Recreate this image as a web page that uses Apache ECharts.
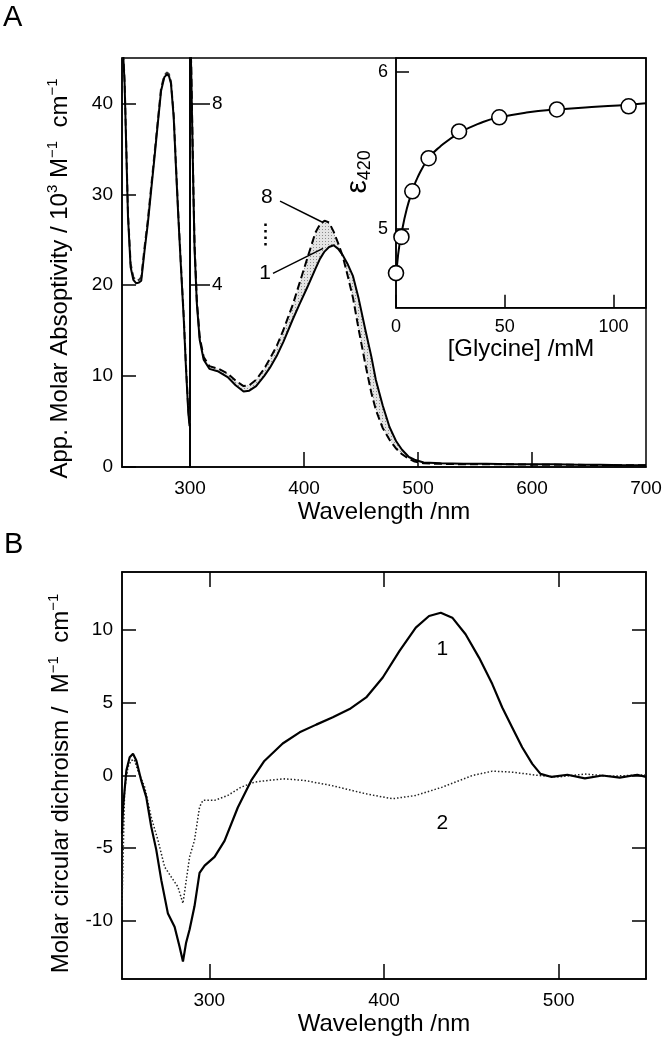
<!DOCTYPE html>
<html><head><meta charset="utf-8">
<script src="https://cdn.jsdelivr.net/npm/echarts@6/dist/echarts.min.js"></script>
<style>html,body{margin:0;padding:0;background:#fff}#c{width:666px;height:1044px}</style>
</head><body><div id="c"></div>
<script>
// ---------- Panel A: absorption spectra (UV segment, 240-300 nm, left scale 0-45) ----------
const uvLeftWl = [240, 241, 242.3, 243.8, 245.3, 247.6, 250, 252.6, 255, 257, 259.9, 262.8, 265.7, 268.7, 271.6, 274.5, 277.4, 279.7, 281.5, 283.2, 285.6, 287.6, 289.7, 292, 294.4, 296.4, 298.5, 299.6];
const uvLeft1 = [48, 45.5, 42.2, 34.8, 27.5, 22.0, 20.6, 20.2, 20.3, 20.5, 23.8, 26.8, 30.4, 34.1, 37.8, 41.4, 42.9, 43.2, 43.0, 42.2, 38.5, 33.0, 27.5, 22.0, 16.5, 11.0, 6.0, 4.5];
const uvLeft8 = [48, 45.8, 42.5, 35.2, 27.9, 22.4, 20.9, 20.5, 20.6, 20.9, 24.2, 27.2, 30.8, 34.5, 38.1, 41.7, 43.1, 43.4, 43.2, 42.4, 38.8, 33.3, 27.8, 22.3, 16.8, 11.3, 6.3, 4.8];
// ---------- Panel A: visible segment (300-700 nm, right scale 0-9) ----------
const visWl = [300, 301, 302, 303, 304, 306, 308.5, 312, 317, 325, 333, 340, 347, 352, 358, 365, 370, 376, 382, 390, 396, 403, 410, 414, 418, 422, 426, 430, 434, 438, 443, 448, 454, 459, 463, 469, 475, 481, 486, 492, 497, 505, 520, 540, 560, 580, 600, 620, 640, 660, 680, 700];
const vis1 = [9.6, 8.8, 7.4, 6.0, 4.8, 3.6, 2.8, 2.36, 2.16, 2.1, 1.98, 1.8, 1.66, 1.68, 1.78, 2.0, 2.18, 2.44, 2.76, 3.24, 3.58, 3.96, 4.36, 4.58, 4.74, 4.84, 4.88, 4.8, 4.66, 4.48, 4.2, 3.7, 3.0, 2.44, 1.92, 1.36, 0.88, 0.56, 0.38, 0.22, 0.16, 0.1, 0.08, 0.07, 0.07, 0.06, 0.06, 0.06, 0.05, 0.05, 0.04, 0.04];
const vis8 = [9.6, 8.9, 7.5, 6.1, 4.9, 3.66, 2.86, 2.42, 2.22, 2.16, 2.06, 1.9, 1.78, 1.8, 1.92, 2.16, 2.38, 2.66, 3.02, 3.56, 4.04, 4.6, 5.16, 5.34, 5.42, 5.38, 5.18, 4.92, 4.64, 4.24, 3.72, 3.02, 2.24, 1.64, 1.26, 0.86, 0.6, 0.4, 0.28, 0.18, 0.12, 0.08, 0.07, 0.06, 0.06, 0.06, 0.05, 0.05, 0.05, 0.04, 0.04, 0.04];
// ---------- Inset: epsilon420 vs glycine ----------
const glycine = [0, 2.5, 7.5, 15, 29, 47.5, 74, 107];
const eps420 = [4.72, 4.95, 5.24, 5.45, 5.62, 5.71, 5.76, 5.78];
const fitGly = [0, 1, 2.5, 5, 7.5, 10, 15, 20, 29, 40, 47.5, 60, 74, 90, 107, 115];
const fitEps = [4.68, 4.84, 4.97, 5.13, 5.24, 5.33, 5.45, 5.52, 5.61, 5.68, 5.71, 5.74, 5.76, 5.775, 5.79, 5.80];
// ---------- Panel B: CD spectra ----------
const cdWl1 = [250, 250.6, 252.5, 254.4, 256.3, 258.2, 261, 263.9, 266.7, 269.6, 272.5, 276.3, 280.1, 283, 284.9, 286.7, 288.7, 291.5, 294.4, 297.3, 303, 308.7, 316.3, 324, 331.5, 342, 351.7, 361.2, 370.7, 380.3, 389.8, 399.3, 408.9, 418.2, 425.8, 432.5, 439.1, 446.7, 454.4, 462, 467.7, 473.4, 479.1, 484.9, 489.6, 496, 505, 515, 525, 535, 545, 550];
const cd1 = [-4, -2.2, 0.34, 1.26, 1.49, 1.03, -0.34, -1.49, -3.5, -5.1, -7.2, -9.5, -10.4, -11.8, -12.8, -11.5, -10.6, -9.0, -6.7, -6.2, -5.6, -4.5, -2.2, -0.34, 1.0, 2.2, 2.97, 3.5, 4.0, 4.57, 5.37, 6.74, 8.57, 10.17, 10.97, 11.2, 10.86, 9.72, 8.11, 6.29, 4.68, 3.31, 1.94, 0.8, 0.11, -0.1, 0.05, -0.2, 0.0, -0.15, 0.05, -0.1];
const cdWl2 = [250, 251.5, 253.4, 255.3, 257, 259.1, 263, 266.7, 270.6, 274.4, 278.2, 282, 284.9, 286.8, 288.7, 291.5, 294.4, 296.3, 303, 310.6, 318.2, 325.8, 333.4, 343, 354.4, 370, 389.6, 404.9, 418.2, 433.4, 450.6, 462, 473.4, 488.7, 500, 515, 530, 550];
const cd2 = [-9, -1.0, 0.57, 1.03, 1.1, 0.34, -0.8, -2.86, -4.46, -6.29, -6.98, -7.66, -8.8, -7.2, -5.6, -4.46, -2.17, -1.71, -1.71, -1.37, -0.8, -0.46, -0.34, -0.23, -0.34, -0.69, -1.26, -1.6, -1.37, -0.8, 0, 0.3, 0.23, 0, -0.1, 0.1, -0.05, 0.05];
// ---------- Tick labels ----------
const ticksAleft = [0, 10, 20, 30, 40];
const ticksAright = [4, 8];
const ticksAx = [300, 400, 500, 600, 700];
const ticksAxInner = [400, 500, 600];
const ticksGly = [0, 50, 100];
const ticksEps = [5, 6];
const ticksBy = [-10, -5, 0, 5, 10];
const ticksBx = [300, 400, 500];

const FONT = '"Liberation Sans", Arial, Helvetica, sans-serif';
const zip = (xs, ys) => xs.map((x, i) => [x, ys[i]]);

// stipple pattern for the shaded band between spectra 1 and 8
const pc = document.createElement('canvas');
pc.width = 3; pc.height = 3;
const g = pc.getContext('2d');
g.fillStyle = '#e4e4e4'; g.fillRect(0, 0, 3, 3);
g.fillStyle = '#8c8c8c'; g.fillRect(1, 1, 1, 1);

const black = '#000';
const axLine = { show: true, onZero: false, lineStyle: { color: black, width: 1.5 } };
const tickIn = (len, vals) => ({ show: true, inside: true, length: len, customValues: vals, lineStyle: { color: black, width: 1.5 } });
const lab = (vals, size, margin, extra) => Object.assign({ show: true, customValues: vals, fontSize: size, margin: margin, color: black, fontFamily: FONT }, extra || {});
const noLab = { show: false };
const noTick = { show: false };
const noSplit = { show: false };
const labelSeries = (xi, yi, pts) => ({
  type: 'scatter', xAxisIndex: xi, yAxisIndex: yi, silent: true, symbolSize: 1,
  itemStyle: { color: '#fff', opacity: 1 }, data: pts, z: 6,
  label: { show: true, position: 'inside', formatter: p => p.value[2], fontSize: 21, fontFamily: FONT,
    color: black, opacity: 1, textBorderWidth: 0, textBorderColor: 'transparent' }
});

const chart = echarts.init(document.getElementById('c'), null, { renderer: 'canvas' });
chart.setOption({
  animation: false,
  backgroundColor: '#fff',
  textStyle: { fontFamily: FONT, color: black },
  graphic: [
    { type: 'text', left: 3, top: 3, style: { text: 'A', fontSize: 29, fontFamily: FONT, fill: black } },
    { type: 'text', left: 4, top: 530, style: { text: 'B', fontSize: 29, fontFamily: FONT, fill: black } }
  ],
  grid: [
    { left: 122, top: 58, width: 68, height: 409, show: true, borderColor: black, borderWidth: 1.5 },
    { left: 190, top: 58, width: 456, height: 409, show: true, borderColor: black, borderWidth: 1.5 },
    { left: 396, top: 58, width: 250, height: 249.7, show: true, borderColor: black, borderWidth: 1.5 },
    { left: 122, top: 572, width: 524, height: 407, show: true, borderColor: black, borderWidth: 1.5 },
    { left: 122, top: 58, width: 524, height: 409, show: false }
  ],
  xAxis: [
    { gridIndex: 0, type: 'value', min: 240, max: 300, axisLine: axLine, axisTick: noTick, axisLabel: noLab, splitLine: noSplit },
    { gridIndex: 1, type: 'value', min: 300, max: 700, axisLine: axLine, axisTick: tickIn(15, ticksAxInner), axisLabel: lab(ticksAx, 19, 12), splitLine: noSplit },
    { gridIndex: 2, type: 'value', min: 0, max: 115, axisLine: axLine, axisTick: tickIn(13, ticksGly), axisLabel: lab(ticksGly, 18, 10), splitLine: noSplit,
      name: '[Glycine] /mM', nameLocation: 'middle', nameGap: 30, nameTextStyle: { fontSize: 24, fontFamily: FONT, color: black } },
    { gridIndex: 3, type: 'value', min: 250, max: 550, axisLine: axLine, axisTick: tickIn(15, ticksBx), axisLabel: lab(ticksBx, 19, 12), splitLine: noSplit,
      name: 'Wavelength /nm', nameLocation: 'middle', nameGap: 33, nameTextStyle: { fontSize: 24, fontFamily: FONT, color: black } },
    { gridIndex: 3, type: 'value', position: 'top', min: 250, max: 550, axisLine: axLine, axisTick: tickIn(15, ticksBx), axisLabel: noLab, splitLine: noSplit },
    { gridIndex: 4, type: 'value', min: 240, max: 700, axisLine: { show: false }, axisTick: noTick, axisLabel: noLab, splitLine: noSplit,
      name: 'Wavelength /nm', nameLocation: 'middle', nameGap: 33, nameTextStyle: { fontSize: 24, fontFamily: FONT, color: black } }
  ],
  yAxis: [
    { gridIndex: 0, type: 'value', min: 0, max: 45, axisLine: axLine, axisTick: tickIn(14, ticksAleft), axisLabel: lab(ticksAleft, 19, 9), splitLine: noSplit,
      name: '{t|App. Molar Absoptivity / 10}{s|3}{t| M}{s|−1}{t|  cm}{s|−1}', nameLocation: 'middle', nameGap: 47,
      nameTextStyle: { padding: [0, 32, 0, 0], rich: { t: { fontSize: 24, fontFamily: FONT, color: black, lineHeight: 30 }, s: { fontSize: 15, fontFamily: FONT, color: black, lineHeight: 16, verticalAlign: 'top' } } } },
    { gridIndex: 1, type: 'value', min: 0, max: 9, axisLine: axLine, axisTick: tickIn(20, ticksAright), axisLabel: lab(ticksAright, 19, 22, { inside: true }), splitLine: noSplit },
    { gridIndex: 2, type: 'value', min: 4.5, max: 6.087, axisLine: axLine, axisTick: tickIn(13, ticksEps), axisLabel: lab(ticksEps, 18, 8), splitLine: noSplit,
      name: '{e|ε}{s|420}', nameLocation: 'middle', nameGap: 16,
      nameTextStyle: { padding: [0, 0, 0, 22], rich: { e: { fontSize: 30, fontFamily: FONT, color: black, lineHeight: 32 }, s: { fontSize: 18, fontFamily: FONT, color: black, lineHeight: 20, verticalAlign: 'bottom' } } } },
    { gridIndex: 3, type: 'value', min: -14, max: 14, axisLine: axLine, axisTick: tickIn(14, ticksBy), axisLabel: lab(ticksBy, 19, 9), splitLine: noSplit,
      name: '{t|Molar circular dichroism /  M}{s|−1}{t|  cm}{s|−1}', nameLocation: 'middle', nameGap: 46,
      nameTextStyle: { padding: [0, 16, 0, 0], rich: { t: { fontSize: 24, fontFamily: FONT, color: black, lineHeight: 30 }, s: { fontSize: 15, fontFamily: FONT, color: black, lineHeight: 16, verticalAlign: 'top' } } } },
    { gridIndex: 3, type: 'value', position: 'right', min: -14, max: 14, axisLine: axLine, axisTick: tickIn(14, ticksBy), axisLabel: noLab, splitLine: noSplit },
    { gridIndex: 4, type: 'value', min: 0, max: 1, show: false }
  ],
  series: [
    { type: 'line', xAxisIndex: 0, yAxisIndex: 0, data: zip(uvLeftWl, uvLeft8), symbol: 'none', silent: true,
      lineStyle: { color: '#333', width: 2, type: [7, 4] } },
    { type: 'line', xAxisIndex: 0, yAxisIndex: 0, data: zip(uvLeftWl, uvLeft1), symbol: 'none', silent: true,
      lineStyle: { color: black, width: 2 } },
    { type: 'custom', xAxisIndex: 1, yAxisIndex: 1, coordinateSystem: 'cartesian2d', silent: true, clip: true,
      data: [[visWl[0], vis1[0]]],
      renderItem: (params, api) => {
        const upper = visWl.map((x, i) => api.coord([x, vis8[i]]));
        const lower = visWl.map((x, i) => api.coord([x, vis1[i]])).reverse();
        return { type: 'polygon', shape: { points: upper.concat(lower) }, style: { fill: { image: pc, repeat: 'repeat' }, stroke: null } };
      } },
    { type: 'line', xAxisIndex: 1, yAxisIndex: 1, data: zip(visWl, vis8), symbol: 'none', silent: true,
      lineStyle: { color: black, width: 2, type: [8, 4] } },
    { type: 'line', xAxisIndex: 1, yAxisIndex: 1, data: zip(visWl, vis1), symbol: 'none', silent: true,
      lineStyle: { color: black, width: 2 } },
    { type: 'line', xAxisIndex: 2, yAxisIndex: 2, data: zip(fitGly, fitEps), symbol: 'none', smooth: true, silent: true,
      lineStyle: { color: black, width: 2 } },
    { type: 'scatter', xAxisIndex: 2, yAxisIndex: 2, data: zip(glycine, eps420), symbol: 'circle', symbolSize: 15, silent: true, z: 5,
      itemStyle: { color: '#fff', borderColor: black, borderWidth: 1.6, opacity: 1 } },
    Object.assign(labelSeries(1, 1, [[367.5, 5.93, '8'], [365.8, 4.26, '1']]), {
      markLine: { silent: true, symbol: 'none', label: { show: false }, animation: false,
        data: [
          [{ coord: [379, 5.85], lineStyle: { color: black, width: 1.5, type: 'solid' } }, { coord: [416.7, 5.38] }],
          [{ coord: [372.8, 4.26], lineStyle: { color: black, width: 1.5, type: 'solid' } }, { coord: [416.7, 4.81] }],
          [{ coord: [365.8, 5.36], lineStyle: { color: black, width: 2.5, type: [2.5, 4] } }, { coord: [365.8, 4.8] }]
        ] } }),
    { type: 'line', xAxisIndex: 3, yAxisIndex: 3, data: zip(cdWl2, cd2), symbol: 'none', silent: true,
      lineStyle: { color: '#222', width: 1.5, type: [1.5, 2] } },
    { type: 'line', xAxisIndex: 3, yAxisIndex: 3, data: zip(cdWl1, cd1), symbol: 'none', silent: true,
      lineStyle: { color: black, width: 2.2 } },
    labelSeries(3, 3, [[433.4, 8.71, '1'], [433.4, -3.29, '2']])
  ]
});
</script></body></html>
